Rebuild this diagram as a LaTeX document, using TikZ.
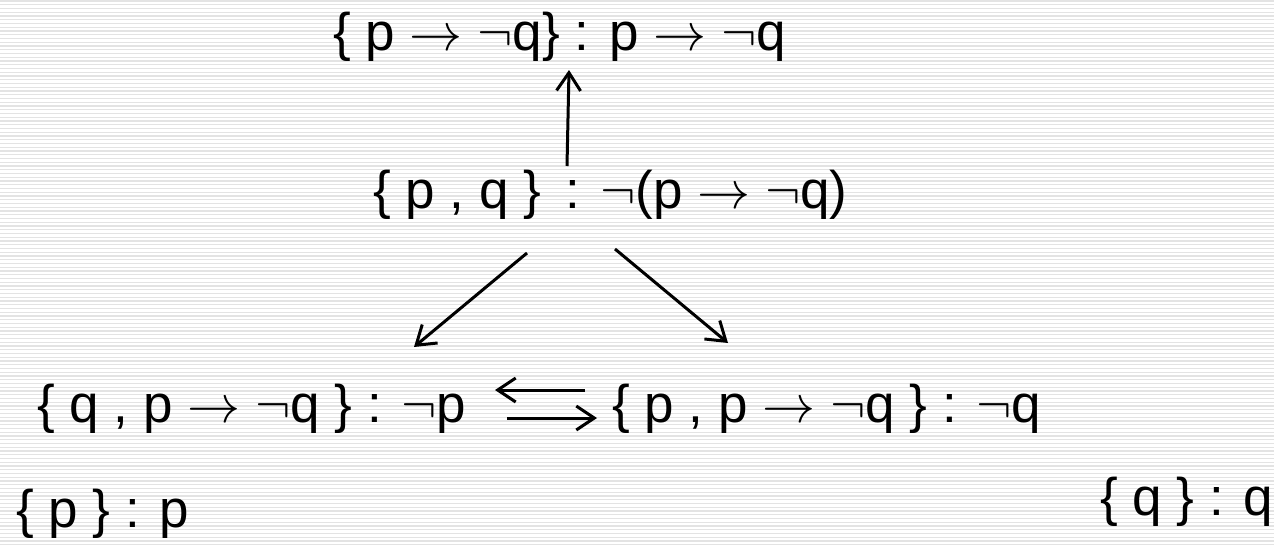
\RequirePackage{fix-cm}
\documentclass[tikz,border=0pt]{standalone}
\usepackage{fontspec}
\setmainfont{Liberation Sans}
\usetikzlibrary{arrows.meta}
\newcommand{\myra}{\ensuremath{\rightarrow}}
\newcommand{\myng}{\ensuremath{\neg}}
\tikzset{
  lbl/.style={anchor=base west, inner sep=0pt, font=\fontsize{53}{60}\selectfont},
  arr/.style={line width=3pt, -{Straight Barb[length=18pt, width=24pt, line width=3pt]}},
  stripe/.style={gray!22, line width=1.3pt}
}
\begin{document}
\begin{tikzpicture}[x=1pt, y=-1pt]
\useasboundingbox (0,0) rectangle (1274,546);
\fill[white] (0,0) rectangle (1274,546);
\foreach \i in {0,...,145} {
  \draw[stripe] (0,\i*3.75+1) -- (1274,\i*3.75+1);
}
\node[lbl] (top) at (333,50) {\{ p \myra\ \myng q\} : p \myra\ \myng q};
\node[lbl] (mid) at (373,208) {\{ p , q \}\hspace{10pt} : \myng(p \myra\ \myng q)};
\node[lbl] (bl) at (37,422) {\{ q , p \myra\ \myng q \} : \myng p};
\node[lbl] (br) at (612,422) {\{ p , p \myra\ \myng q \} : \myng q};
\node[lbl] (pp) at (16,527) {\{ p \} : p};
\node[lbl] (qq) at (1100,515) {\{ q \} : q};
\coordinate (m1) at (567,166);
\coordinate (t1) at (569,70);
\coordinate (m2) at (527,253);
\coordinate (l1) at (414,347);
\coordinate (m3) at (615,249);
\coordinate (r1) at (728,343);
\coordinate (a1) at (585,390);
\coordinate (a2) at (495,390);
\coordinate (b1) at (507,418);
\coordinate (b2) at (597,418);
\draw[arr] (m1) -- (t1);
\draw[arr] (m2) -- (l1);
\draw[arr] (m3) -- (r1);
\draw[arr] (a1) -- (a2);
\draw[arr] (b1) -- (b2);
\end{tikzpicture}
\end{document}
